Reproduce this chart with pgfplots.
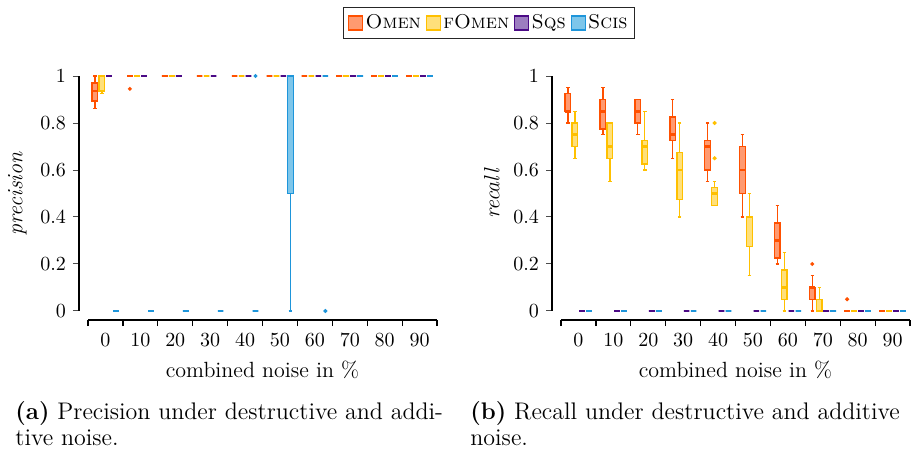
\documentclass[border=0pt]{standalone}
\usepackage{pgfplots}
\pgfplotsset{compat=1.18}
\usepgfplotslibrary{statistics}
\definecolor{omD}{HTML}{FF5000}
\definecolor{omF}{HTML}{FF9A70}
\definecolor{foD}{HTML}{FFC000}
\definecolor{foF}{HTML}{FFE07A}
\definecolor{sqD}{HTML}{4B0A86}
\definecolor{sqF}{HTML}{9C7DC0}
\definecolor{scD}{HTML}{1E95DA}
\definecolor{scF}{HTML}{7EC6EA}
\pgfplotsset{
  swatch/.style={legend image code/.code={\draw[##1] (0pt,-3.5pt) rectangle (7pt,3.5pt);}},
  bxbase/.style={forget plot, solid, line width=0.7pt,
    mark=*, mark size=0.6pt,
    boxplot/draw direction=y,
    boxplot/box extend=0.16, boxplot/whisker extend=0.1,
    boxplot/every median/.style={line width=1.3pt}},
  OM/.style={bxbase, draw=omD, fill=omF, mark options={draw=omD, fill=omD}},
  FO/.style={bxbase, draw=foD, fill=foF, mark options={draw=foD, fill=foD}},
  SQ/.style={bxbase, draw=sqD, fill=sqF, mark options={draw=sqD, fill=sqF}},
  SC/.style={bxbase, draw=scD, fill=scF, mark options={draw=scD, fill=scD}},
  myaxis/.style={
    scale only axis, width=174.5pt, height=117.5pt,
    xmin=-0.5, xmax=9.5, ymin=0, ymax=1,
    clip=false,
    axis x line*=bottom, axis y line*=left,
    axis x line shift=4.5pt, axis y line shift=4.5pt,
    axis line style={line width=1.3pt, -},
    xtick={0,...,9}, xticklabels={0,10,20,30,40,50,60,70,80,90},
    major x tick style={draw=none},
    minor xtick={-0.5,0.5,...,9.5},
    minor x tick style={line width=0.6pt, black},
    minor tick length=3pt,
    ytick={0,0.2,0.4,0.6,0.8,1},
    y tick style={line width=0.5pt, black!70},
    major tick length=3pt,
    tick align=outside,
    label style={font=\fontsize{11}{13}\selectfont},
    xlabel={combined noise in \%},
  },
}
\begin{document}
\begin{tikzpicture}
\useasboundingbox (0,0) rectangle (456pt,-227pt);
% ---------------- left: precision ----------------
\begin{axis}[myaxis, at={(44pt,-155.5pt)}, anchor=south west,
  ylabel={\textit{precision}},
  legend columns=4,
  legend style={at={(1.149,1.2255)}, anchor=center, draw=black!85, line width=0.5pt,
    font=\normalsize, inner sep=2.5pt, nodes={inner sep=1.2pt},
    /tikz/every even column/.append style={column sep=1.2pt}},
  legend cell align=left]
\addlegendimage{swatch, draw=omD, fill=omF, line width=0.6pt}
\addlegendentry{\textsc{Omen}}
\addlegendimage{swatch, draw=foD, fill=foF, line width=0.6pt}
\addlegendentry{\textsc{fOmen}}
\addlegendimage{swatch, draw=sqD, fill=sqF, line width=0.6pt}
\addlegendentry{\textsc{Sqs}}
\addlegendimage{swatch, draw=scD, fill=scF, line width=0.6pt}
\addlegendentry{\textsc{Scis}}
% Omen
\addplot[OM, boxplot prepared={draw position=-0.3, lower whisker=0.862, lower quartile=0.894, median=0.937, upper quartile=0.971, upper whisker=1}] coordinates {};
\addplot[OM, boxplot prepared={draw position=0.7, lower whisker=1, lower quartile=1, median=1, upper quartile=1, upper whisker=1}] table[row sep=\\, y index=0] {v\\ 0.945\\};
\addplot[OM, boxplot prepared={draw position=1.7, lower whisker=1, lower quartile=1, median=1, upper quartile=1, upper whisker=1}] coordinates {};
\addplot[OM, boxplot prepared={draw position=2.7, lower whisker=1, lower quartile=1, median=1, upper quartile=1, upper whisker=1}] coordinates {};
\addplot[OM, boxplot prepared={draw position=3.7, lower whisker=1, lower quartile=1, median=1, upper quartile=1, upper whisker=1}] coordinates {};
\addplot[OM, boxplot prepared={draw position=4.7, lower whisker=1, lower quartile=1, median=1, upper quartile=1, upper whisker=1}] coordinates {};
\addplot[OM, boxplot prepared={draw position=5.7, lower whisker=1, lower quartile=1, median=1, upper quartile=1, upper whisker=1}] coordinates {};
\addplot[OM, boxplot prepared={draw position=6.7, lower whisker=1, lower quartile=1, median=1, upper quartile=1, upper whisker=1}] coordinates {};
\addplot[OM, boxplot prepared={draw position=7.7, lower whisker=1, lower quartile=1, median=1, upper quartile=1, upper whisker=1}] coordinates {};
\addplot[OM, boxplot prepared={draw position=8.7, lower whisker=1, lower quartile=1, median=1, upper quartile=1, upper whisker=1}] coordinates {};
% fOmen
\addplot[FO, boxplot prepared={draw position=-0.1, lower whisker=0.926, lower quartile=0.936, median=1, upper quartile=1, upper whisker=1}] coordinates {};
\addplot[FO, boxplot prepared={draw position=0.9, lower whisker=1, lower quartile=1, median=1, upper quartile=1, upper whisker=1}] coordinates {};
\addplot[FO, boxplot prepared={draw position=1.9, lower whisker=1, lower quartile=1, median=1, upper quartile=1, upper whisker=1}] coordinates {};
\addplot[FO, boxplot prepared={draw position=2.9, lower whisker=1, lower quartile=1, median=1, upper quartile=1, upper whisker=1}] coordinates {};
\addplot[FO, boxplot prepared={draw position=3.9, lower whisker=1, lower quartile=1, median=1, upper quartile=1, upper whisker=1}] coordinates {};
\addplot[FO, boxplot prepared={draw position=4.9, lower whisker=1, lower quartile=1, median=1, upper quartile=1, upper whisker=1}] coordinates {};
\addplot[FO, boxplot prepared={draw position=5.9, lower whisker=1, lower quartile=1, median=1, upper quartile=1, upper whisker=1}] coordinates {};
\addplot[FO, boxplot prepared={draw position=6.9, lower whisker=1, lower quartile=1, median=1, upper quartile=1, upper whisker=1}] coordinates {};
\addplot[FO, boxplot prepared={draw position=7.9, lower whisker=1, lower quartile=1, median=1, upper quartile=1, upper whisker=1}] coordinates {};
\addplot[FO, boxplot prepared={draw position=8.9, lower whisker=1, lower quartile=1, median=1, upper quartile=1, upper whisker=1}] coordinates {};
% Sqs
\addplot[SQ, boxplot prepared={draw position=0.1, lower whisker=1, lower quartile=1, median=1, upper quartile=1, upper whisker=1}] coordinates {};
\addplot[SQ, boxplot prepared={draw position=1.1, lower whisker=1, lower quartile=1, median=1, upper quartile=1, upper whisker=1}] coordinates {};
\addplot[SQ, boxplot prepared={draw position=2.1, lower whisker=1, lower quartile=1, median=1, upper quartile=1, upper whisker=1}] coordinates {};
\addplot[SQ, boxplot prepared={draw position=3.1, lower whisker=1, lower quartile=1, median=1, upper quartile=1, upper whisker=1}] coordinates {};
\addplot[SQ, boxplot prepared={draw position=4.1, lower whisker=1, lower quartile=1, median=1, upper quartile=1, upper whisker=1}] coordinates {};
\addplot[SQ, boxplot prepared={draw position=5.1, lower whisker=1, lower quartile=1, median=1, upper quartile=1, upper whisker=1}] coordinates {};
\addplot[SQ, boxplot prepared={draw position=6.1, lower whisker=1, lower quartile=1, median=1, upper quartile=1, upper whisker=1}] coordinates {};
\addplot[SQ, boxplot prepared={draw position=7.1, lower whisker=1, lower quartile=1, median=1, upper quartile=1, upper whisker=1}] coordinates {};
\addplot[SQ, boxplot prepared={draw position=8.1, lower whisker=1, lower quartile=1, median=1, upper quartile=1, upper whisker=1}] coordinates {};
\addplot[SQ, boxplot prepared={draw position=9.1, lower whisker=1, lower quartile=1, median=1, upper quartile=1, upper whisker=1}] coordinates {};
% Scis
\addplot[SC, boxplot prepared={draw position=0.3, lower whisker=0, lower quartile=0, median=0, upper quartile=0, upper whisker=0}] coordinates {};
\addplot[SC, boxplot prepared={draw position=1.3, lower whisker=0, lower quartile=0, median=0, upper quartile=0, upper whisker=0}] coordinates {};
\addplot[SC, boxplot prepared={draw position=2.3, lower whisker=0, lower quartile=0, median=0, upper quartile=0, upper whisker=0}] coordinates {};
\addplot[SC, boxplot prepared={draw position=3.3, lower whisker=0, lower quartile=0, median=0, upper quartile=0, upper whisker=0}] coordinates {};
\addplot[SC, boxplot prepared={draw position=4.3, lower whisker=0, lower quartile=0, median=0, upper quartile=0, upper whisker=0}] table[row sep=\\, y index=0] {v\\ 1\\};
\addplot[SC, boxplot prepared={draw position=5.3, lower whisker=0, lower quartile=0.5, median=1, upper quartile=1, upper whisker=1}] coordinates {};
\addplot[SC, boxplot prepared={draw position=6.3, lower whisker=1, lower quartile=1, median=1, upper quartile=1, upper whisker=1}] table[row sep=\\, y index=0] {v\\ 0\\};
\addplot[SC, boxplot prepared={draw position=7.3, lower whisker=1, lower quartile=1, median=1, upper quartile=1, upper whisker=1}] coordinates {};
\addplot[SC, boxplot prepared={draw position=8.3, lower whisker=1, lower quartile=1, median=1, upper quartile=1, upper whisker=1}] coordinates {};
\addplot[SC, boxplot prepared={draw position=9.3, lower whisker=1, lower quartile=1, median=1, upper quartile=1, upper whisker=1}] coordinates {};
\end{axis}
% ---------------- right: recall ----------------
\begin{axis}[myaxis, at={(280.5pt,-155.5pt)}, anchor=south west,
  ylabel={\textit{recall}}]
% Omen
\addplot[OM, boxplot prepared={draw position=-0.3, lower whisker=0.8, lower quartile=0.85, median=0.85, upper quartile=0.925, upper whisker=0.95}] coordinates {};
\addplot[OM, boxplot prepared={draw position=0.7, lower whisker=0.75, lower quartile=0.775, median=0.85, upper quartile=0.9, upper whisker=0.95}] coordinates {};
\addplot[OM, boxplot prepared={draw position=1.7, lower whisker=0.75, lower quartile=0.8, median=0.85, upper quartile=0.9, upper whisker=0.9}] coordinates {};
\addplot[OM, boxplot prepared={draw position=2.7, lower whisker=0.65, lower quartile=0.725, median=0.75, upper quartile=0.825, upper whisker=0.9}] coordinates {};
\addplot[OM, boxplot prepared={draw position=3.7, lower whisker=0.55, lower quartile=0.6, median=0.7, upper quartile=0.725, upper whisker=0.8}] coordinates {};
\addplot[OM, boxplot prepared={draw position=4.7, lower whisker=0.4, lower quartile=0.5, median=0.6, upper quartile=0.7, upper whisker=0.75}] coordinates {};
\addplot[OM, boxplot prepared={draw position=5.7, lower whisker=0.2, lower quartile=0.225, median=0.3, upper quartile=0.375, upper whisker=0.45}] coordinates {};
\addplot[OM, boxplot prepared={draw position=6.7, lower whisker=0, lower quartile=0.05, median=0.1, upper quartile=0.1, upper whisker=0.15}] table[row sep=\\, y index=0] {v\\ 0.2\\};
\addplot[OM, boxplot prepared={draw position=7.7, lower whisker=0, lower quartile=0, median=0, upper quartile=0, upper whisker=0}] table[row sep=\\, y index=0] {v\\ 0.05\\};
\addplot[OM, boxplot prepared={draw position=8.7, lower whisker=0, lower quartile=0, median=0, upper quartile=0, upper whisker=0}] coordinates {};
% fOmen
\addplot[FO, boxplot prepared={draw position=-0.1, lower whisker=0.65, lower quartile=0.7, median=0.75, upper quartile=0.8, upper whisker=0.85}] coordinates {};
\addplot[FO, boxplot prepared={draw position=0.9, lower whisker=0.55, lower quartile=0.65, median=0.7, upper quartile=0.8, upper whisker=0.8}] coordinates {};
\addplot[FO, boxplot prepared={draw position=1.9, lower whisker=0.6, lower quartile=0.625, median=0.7, upper quartile=0.725, upper whisker=0.85}] coordinates {};
\addplot[FO, boxplot prepared={draw position=2.9, lower whisker=0.4, lower quartile=0.475, median=0.6, upper quartile=0.675, upper whisker=0.8}] coordinates {};
\addplot[FO, boxplot prepared={draw position=3.9, lower whisker=0.45, lower quartile=0.45, median=0.5, upper quartile=0.525, upper whisker=0.55}] table[row sep=\\, y index=0] {v\\ 0.65\\ 0.8\\};
\addplot[FO, boxplot prepared={draw position=4.9, lower whisker=0.15, lower quartile=0.275, median=0.4, upper quartile=0.4, upper whisker=0.5}] coordinates {};
\addplot[FO, boxplot prepared={draw position=5.9, lower whisker=0, lower quartile=0.05, median=0.1, upper quartile=0.175, upper whisker=0.25}] coordinates {};
\addplot[FO, boxplot prepared={draw position=6.9, lower whisker=0, lower quartile=0, median=0, upper quartile=0.05, upper whisker=0.1}] coordinates {};
\addplot[FO, boxplot prepared={draw position=7.9, lower whisker=0, lower quartile=0, median=0, upper quartile=0, upper whisker=0}] coordinates {};
\addplot[FO, boxplot prepared={draw position=8.9, lower whisker=0, lower quartile=0, median=0, upper quartile=0, upper whisker=0}] coordinates {};
% Sqs
\addplot[SQ, boxplot prepared={draw position=0.1, lower whisker=0, lower quartile=0, median=0, upper quartile=0, upper whisker=0}] coordinates {};
\addplot[SQ, boxplot prepared={draw position=1.1, lower whisker=0, lower quartile=0, median=0, upper quartile=0, upper whisker=0}] coordinates {};
\addplot[SQ, boxplot prepared={draw position=2.1, lower whisker=0, lower quartile=0, median=0, upper quartile=0, upper whisker=0}] coordinates {};
\addplot[SQ, boxplot prepared={draw position=3.1, lower whisker=0, lower quartile=0, median=0, upper quartile=0, upper whisker=0}] coordinates {};
\addplot[SQ, boxplot prepared={draw position=4.1, lower whisker=0, lower quartile=0, median=0, upper quartile=0, upper whisker=0}] coordinates {};
\addplot[SQ, boxplot prepared={draw position=5.1, lower whisker=0, lower quartile=0, median=0, upper quartile=0, upper whisker=0}] coordinates {};
\addplot[SQ, boxplot prepared={draw position=6.1, lower whisker=0, lower quartile=0, median=0, upper quartile=0, upper whisker=0}] coordinates {};
\addplot[SQ, boxplot prepared={draw position=7.1, lower whisker=0, lower quartile=0, median=0, upper quartile=0, upper whisker=0}] coordinates {};
\addplot[SQ, boxplot prepared={draw position=8.1, lower whisker=0, lower quartile=0, median=0, upper quartile=0, upper whisker=0}] coordinates {};
\addplot[SQ, boxplot prepared={draw position=9.1, lower whisker=0, lower quartile=0, median=0, upper quartile=0, upper whisker=0}] coordinates {};
% Scis
\addplot[SC, boxplot prepared={draw position=0.3, lower whisker=0, lower quartile=0, median=0, upper quartile=0, upper whisker=0}] coordinates {};
\addplot[SC, boxplot prepared={draw position=1.3, lower whisker=0, lower quartile=0, median=0, upper quartile=0, upper whisker=0}] coordinates {};
\addplot[SC, boxplot prepared={draw position=2.3, lower whisker=0, lower quartile=0, median=0, upper quartile=0, upper whisker=0}] coordinates {};
\addplot[SC, boxplot prepared={draw position=3.3, lower whisker=0, lower quartile=0, median=0, upper quartile=0, upper whisker=0}] coordinates {};
\addplot[SC, boxplot prepared={draw position=4.3, lower whisker=0, lower quartile=0, median=0, upper quartile=0, upper whisker=0}] coordinates {};
\addplot[SC, boxplot prepared={draw position=5.3, lower whisker=0, lower quartile=0, median=0, upper quartile=0, upper whisker=0}] coordinates {};
\addplot[SC, boxplot prepared={draw position=6.3, lower whisker=0, lower quartile=0, median=0, upper quartile=0, upper whisker=0}] coordinates {};
\addplot[SC, boxplot prepared={draw position=7.3, lower whisker=0, lower quartile=0, median=0, upper quartile=0, upper whisker=0}] coordinates {};
\addplot[SC, boxplot prepared={draw position=8.3, lower whisker=0, lower quartile=0, median=0, upper quartile=0, upper whisker=0}] coordinates {};
\addplot[SC, boxplot prepared={draw position=9.3, lower whisker=0, lower quartile=0, median=0, upper quartile=0, upper whisker=0}] coordinates {};
\end{axis}
% ---------------- captions ----------------
\begin{scope}[every node/.style={anchor=base west, inner sep=0pt, font=\fontsize{12}{12}\selectfont}]
\node at (7.5pt,-210pt) {\textbf{(a)} Precision under destructive and addi-};
\node at (7.5pt,-223pt) {tive noise.};
\node at (235pt,-210pt) {\textbf{(b)} Recall under destructive and additive};
\node at (235pt,-223pt) {noise.};
\end{scope}
\end{tikzpicture}
\end{document}
